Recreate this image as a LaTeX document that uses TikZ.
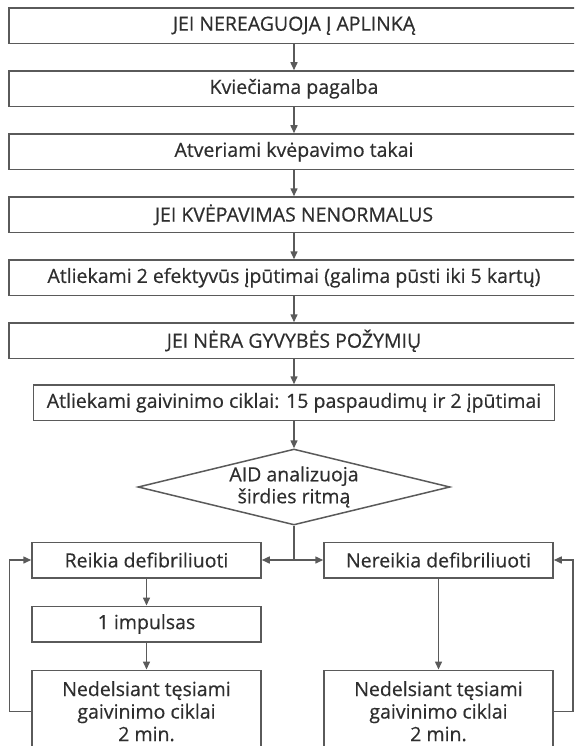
\documentclass[tikz,border=0pt]{standalone}
\usepackage{fontspec}
\setmainfont[FakeBold=0.5]{Open Sans}
\usetikzlibrary{shapes.geometric, arrows.meta, positioning}
\definecolor{linegray}{HTML}{5A5A5A}
\definecolor{textgray}{HTML}{2E2E2E}

\begin{document}
\begin{tikzpicture}[
      x=1pt, y=1pt,
      node distance=26pt,
      font=\fontsize{19.5}{23}\selectfont,
      box/.style={
          rectangle,
          draw=linegray,
          line width=1.5pt,
          text=textgray,
          align=center,
          minimum height=35.5pt,
          inner sep=2pt
        },
      wide/.style={
          box,
          minimum width=570pt
        },
      half/.style={
          box,
          minimum width=229pt
        },
      tall/.style={
          half,
          minimum height=82pt,
          font=\fontsize{19.5}{22.5}\selectfont
        },
      decision/.style={
          diamond,
          draw=linegray,
          line width=1.5pt,
          text=textgray,
          align=center,
          aspect=4.1,
          minimum width=312pt,
          minimum height=76pt,
          inner sep=0pt,
          font=\fontsize{19.5}{22}\selectfont
        },
      arrow/.style={
          -{Triangle[length=8pt,width=7pt]},
          draw=linegray,
          line width=1.5pt
        },
      link/.style={
          draw=linegray,
          line width=1.5pt
        }
    ]
    \path[use as bounding box, clip] (0,0) rectangle (574,-746);

    % Nodes
    \node[wide] (reag) at (294,-25.75) {JEI NEREAGUOJA Į APLINKĄ};
    \node[wide, below=of reag] (pagalba) {Kviečiama pagalba};
    \node[wide, below=of pagalba] (takai) {Atveriami kvėpavimo takai};
    \node[wide, below=of takai] (kvep) {JEI KVĖPAVIMAS NENORMALUS};
    \node[wide, below=of kvep] (iputimai) {Atliekami 2 efektyvūs įpūtimai (galima pūsti iki 5 kartų)};
    \node[wide, below=of iputimai] (pozym) {JEI NĖRA GYVYBĖS POŽYMIŲ};
    \node[box, minimum width=521pt, below=25pt of pozym] (ciklai) {Atliekami gaivinimo ciklai: 15 paspaudimų ir 2 įpūtimai};
    \node[decision, below=27pt of ciklai] (aid) {AID analizuoja\\širdies ritmą};
    \node[half] (reik) at (146.5,-560) {Reikia defibriliuoti};
    \node[half] (nereik) at (438.5,-560) {Nereikia defibriliuoti};
    \node[half, below=27pt of reik] (impulsas) {1 impulsas};
    \node[tall, below=27pt of impulsas] (tesL) {Nedelsiant tęsiami\\gaivinimo ciklai\\2 min.};
    \node[tall] (tesR) at (nereik |- tesL) {Nedelsiant tęsiami\\gaivinimo ciklai\\2 min.};
    \coordinate (split) at (aid.south |- reik);

    % Arrows
    \draw[arrow] (reag) -- (pagalba);
    \draw[arrow] (pagalba) -- (takai);
    \draw[arrow] (takai) -- (kvep);
    \draw[arrow] (kvep) -- (iputimai);
    \draw[arrow] (iputimai) -- (pozym);
    \draw[arrow] (pozym.south) -- (pozym.south |- ciklai.north);
    \draw[arrow] (ciklai.south -| aid.north) -- (aid.north);
    \draw[link] (aid.south) -- (split);
    \draw[arrow] (split) -- (reik);
    \draw[arrow] (split) -- (nereik);
    \draw[arrow] (reik) -- (impulsas);
    \draw[arrow] (impulsas) -- (tesL);
    \draw[arrow] (nereik) -- (tesR);
    \draw[arrow] (tesL.west) -- ++(-22,0) |- (reik.west);
    \draw[arrow] (tesR.east) -- ++(19,0) |- (nereik.east);

  \end{tikzpicture}
\end{document}
